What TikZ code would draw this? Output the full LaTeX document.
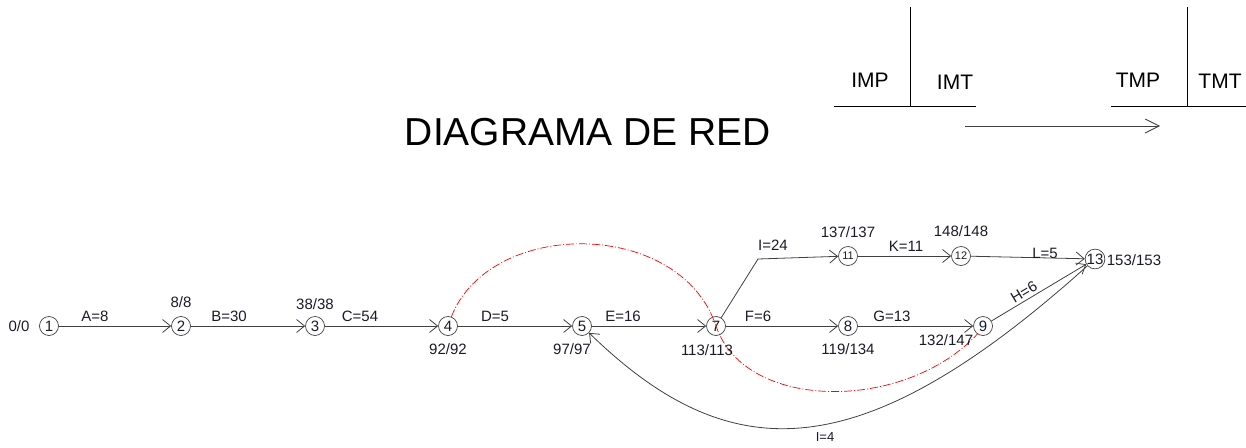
\documentclass[tikz,border=0pt]{standalone}
\usepackage{fontspec}
\setmainfont{Liberation Sans}
\usetikzlibrary{arrows.meta}
\definecolor{ln}{HTML}{404040}
\definecolor{tx}{HTML}{1A1A2A}
\tikzset{
  ev/.style={circle,draw=ln,line width=0.7pt,minimum size=19pt,inner sep=0pt,font=\fontsize{15}{15}\selectfont,text=tx},
  evs/.style={ev,font=\fontsize{11}{11}\selectfont},
  lab/.style={inner sep=0pt,font=\fontsize{15}{15}\selectfont,text=tx},
  act/.style={draw=ln,line width=0.8pt,-{Straight Barb[length=8pt,width=13pt,line width=0.8pt]}},
  crit/.style={draw=red,line width=0.7pt,dash pattern=on 8pt off 2pt on 1pt off 2pt},
  leg/.style={inner sep=0pt,font=\fontsize{21}{21}\selectfont,text=black},
}
\begin{document}
\begin{tikzpicture}[x=1pt,y=-1pt]
\useasboundingbox (0,0) rectangle (1246,447);
% title
\node[inner sep=0pt,font=\fontsize{39}{39}\selectfont] (title) at (588,132) {DIAGRAMA DE RED};
% legend
\coordinate (v1t) at (910,7); \coordinate (v1b) at (910,106);
\coordinate (h1l) at (834,106); \coordinate (h1r) at (976,106);
\draw[line width=0.8pt] (v1t) -- (v1b);
\draw[line width=0.8pt] (h1l) -- (h1r);
\coordinate (v2t) at (1187,7); \coordinate (v2b) at (1187,106);
\coordinate (h2l) at (1111,106); \coordinate (h2r) at (1246,106);
\draw[line width=0.8pt] (v2t) -- (v2b);
\draw[line width=0.8pt] (h2l) -- (h2r);
\node[leg] (imp) at (870,80) {IMP};
\node[leg] (imt) at (955,82) {IMT};
\node[leg] (tmp) at (1138,80) {TMP};
\node[leg] (tmt) at (1220,81) {TMT};
\coordinate (la) at (965,126); \coordinate (lb) at (1160,126);
\draw[draw=ln,line width=0.8pt,-{Straight Barb[length=14pt,width=14pt,line width=0.8pt]}] (la) -- (lb);
% events
\node[ev] (n1) at (49,326) {1};
\node[ev] (n2) at (181,326) {2};
\node[ev] (n3) at (315,326) {3};
\node[ev] (n4) at (448,326) {4};
\node[ev] (n5) at (582,326) {5};
\node[ev] (n7) at (716,326) {7};
\node[ev] (n8) at (848,326) {8};
\node[ev] (n9) at (983,326) {9};
\node[evs] (n11) at (848,256) {11};
\node[evs] (n12) at (961,256) {12};
\node[ev] (n13) at (1095,259) {13};
% critical path (red)
\draw[crit] (n4.70) .. controls (490,218) and (680,218) .. (n7.center)
  .. controls (745,412) and (905,412) .. (n9.235);
% activities
\draw[act] (n1) -- (n2);
\draw[act] (n2) -- (n3);
\draw[act] (n3) -- (n4);
\draw[act] (n4) -- (n5);
\draw[act] (n5) -- (n7);
\draw[act] (n7) -- (n8);
\draw[act] (n8) -- (n9);
\coordinate (bend) at (758,259);
\draw[act] (n7) -- (bend) -- (n11);
\draw[act] (n11) -- (n12);
\draw[act] (n12) -- (n13);
\draw[act] (n9) -- (n13);
\draw[act] (n13) .. controls (860,470) and (730,470) .. (n5);
% activity labels
\node[lab] (a) at (95,316) {A=8};
\node[lab] (b) at (229,316) {B=30};
\node[lab] (c) at (360,316) {C=54};
\node[lab] (d) at (495,316) {D=5};
\node[lab] (e) at (623,316) {E=16};
\node[lab] (f) at (758,316) {F=6};
\node[lab] (g) at (892,316) {G=13};
\node[lab] (i24) at (773,245) {I=24};
\node[lab] (k) at (906,246) {K=11};
\node[lab] (l) at (1045,253) {L=5};
\node[lab,rotate=31] (h) at (1024,292) {H=6};
\node[lab,font=\fontsize{13}{13}\selectfont] (i4) at (825,437) {I=4};
% event times
\node[lab] (t1) at (19,326) {0/0};
\node[lab] (t2) at (181,302) {8/8};
\node[lab] (t3) at (315,304) {38/38};
\node[lab] (t4) at (448,349) {92/92};
\node[lab] (t5) at (572,349) {97/97};
\node[lab] (t7) at (707,350) {113/113};
\node[lab] (t8) at (848,349) {119/134};
\node[lab] (t9) at (946,340) {132/147};
\node[lab] (t11) at (848,232) {137/137};
\node[lab] (t12) at (961,231) {148/148};
\node[lab] (t13) at (1134,260) {153/153};
\end{tikzpicture}
\end{document}
